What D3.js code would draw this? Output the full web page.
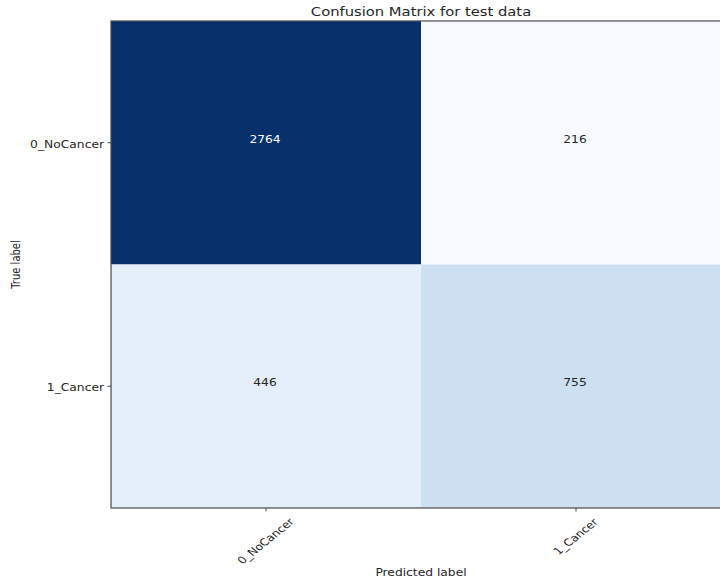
<!DOCTYPE html>
<html>
<head>
<meta charset="utf-8">
<script src="https://cdn.jsdelivr.net/npm/d3@7"></script>
<style>
  html, body { margin: 0; padding: 0; background: #fff; }
  svg { display: block; font-family: "DejaVu Sans", sans-serif; }
</style>
</head>
<body>
<svg id="chart" width="720" height="581"></svg>
<script>
// Class labels (rows = true, columns = predicted)
const trueLabels = ["0_NoCancer", "1_Cancer"];
const predictedLabels = ["0_NoCancer", "1_Cancer"];
// Counts per row of the confusion matrix
const row0 = [2764, 216];
const row1 = [446, 755];
const matrix = [row0, row1];

const svg = d3.select("#chart");
const margin = { left: 111, top: 21, right: -11, bottom: 73 };
const W = 720, H = 581;
const plotW = W - margin.left - margin.right;
const plotH = H - margin.top - margin.bottom;
const SX = 1.23;            // horizontal stretch of the figure's lettering
const textColor = "#262626";

const x = d3.scaleBand().domain(predictedLabels).range([0, plotW]);
const y = d3.scaleBand().domain(trueLabels).range([0, plotH]);

const all = matrix.flat();
const color = d3.scaleSequential(d3.interpolateBlues)
  .domain([d3.min(all), d3.max(all)]);
const thresh = d3.max(all) / 2;

const cells = [];
trueLabels.forEach((t, i) => {
  predictedLabels.forEach((p, j) => {
    cells.push({ t, p, v: matrix[i][j] });
  });
});

const g = svg.append("g").attr("transform", `translate(${margin.left},${margin.top})`);

g.selectAll("rect.cell").data(cells).join("rect")
  .attr("class", "cell")
  .attr("x", d => x(d.p))
  .attr("y", d => y(d.t))
  .attr("width", x.bandwidth())
  .attr("height", y.bandwidth())
  .attr("fill", d => color(d.v));

g.selectAll("text.val").data(cells).join("text")
  .attr("class", "val")
  .attr("transform", d =>
    `translate(${x(d.p) + x.bandwidth() / 2 - 1},${y(d.t) + y.bandwidth() / 2 - 3}) scale(${SX},1)`)
  .attr("text-anchor", "middle")
  .attr("dominant-baseline", "central")
  .attr("font-size", 10)
  .attr("fill", d => d.v > thresh ? "#ffffff" : textColor)
  .text(d => d.v);

// Frame
g.append("rect")
  .attr("x", 0).attr("y", 0)
  .attr("width", plotW).attr("height", plotH)
  .attr("fill", "none")
  .attr("stroke", "#4a4a4a")
  .attr("stroke-width", 1.2);

// Axes
const xAxis = g.append("g")
  .attr("transform", `translate(0,${plotH})`)
  .call(d3.axisBottom(x).tickSize(3.5).tickPadding(4));
xAxis.select(".domain").remove();
xAxis.selectAll(".tick text")
  .attr("font-size", 10)
  .attr("fill", textColor)
  .attr("text-anchor", "middle")
  .attr("dominant-baseline", "central")
  .attr("y", null).attr("dy", null)
  .each(function () {
    // rotated label: bounding box centred on the tick, top just below it
    const L = this.getComputedTextLength();
    const half = (L + 10) * Math.SQRT1_2 / 2;
    d3.select(this).attr("transform", `translate(0,${10 + half}) scale(${SX},1) rotate(-45)`);
  });

const yAxis = g.append("g")
  .call(d3.axisLeft(y).tickSize(3.5).tickPadding(4));
yAxis.select(".domain").remove();
yAxis.selectAll(".tick text")
  .attr("font-size", 10)
  .attr("fill", textColor)
  .attr("x", null).attr("dy", null)
  .attr("dominant-baseline", "central")
  .attr("transform", `translate(-7,2) scale(${SX},1)`);
svg.selectAll(".tick line").attr("stroke", "#4a4a4a");
svg.selectAll(".tick text").attr("font-family", "DejaVu Sans, sans-serif");

// Titles
svg.append("text")
  .attr("transform", `translate(${margin.left + 310},16) scale(${SX},1)`)
  .attr("text-anchor", "middle")
  .attr("font-size", 12)
  .attr("fill", textColor)
  .text("Confusion Matrix for test data");

svg.append("text")
  .attr("transform", `translate(${margin.left + 310},576) scale(${SX},1)`)
  .attr("text-anchor", "middle")
  .attr("font-size", 10)
  .attr("fill", textColor)
  .text("Predicted label");

svg.append("text")
  .attr("transform", `translate(20,${margin.top + plotH / 2}) scale(${SX},1) rotate(-90)`)
  .attr("text-anchor", "middle")
  .attr("font-size", 10)
  .attr("fill", textColor)
  .text("True label");
</script>
</body>
</html>
